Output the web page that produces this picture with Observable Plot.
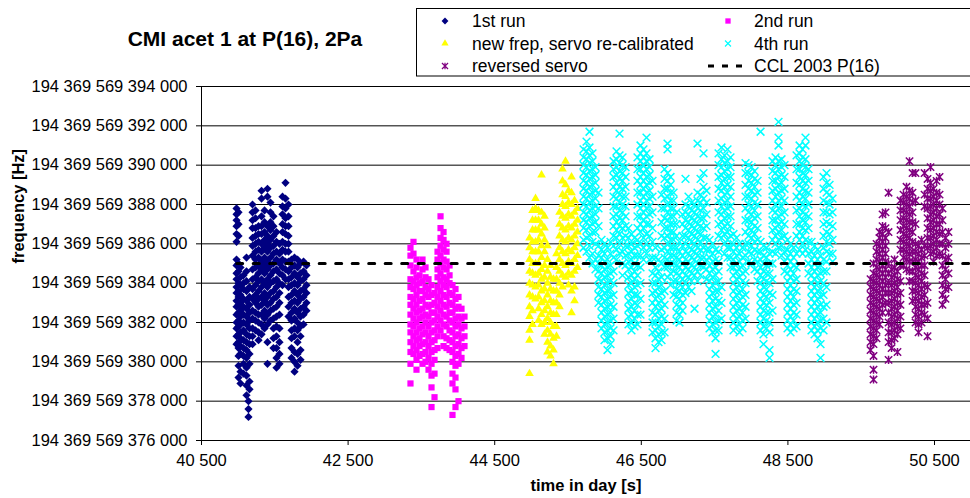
<!DOCTYPE html>
<html><head><meta charset="utf-8">
<script src="https://cdn.jsdelivr.net/npm/d3@7"></script>
<script src="https://cdn.jsdelivr.net/npm/@observablehq/plot@0.6"></script>
<style>
body{margin:0;background:#fff;font-family:"Liberation Sans",Arial,sans-serif;}
#wrap{position:relative;width:970px;height:498px;overflow:hidden;}
#title{position:absolute;left:0;top:28px;width:490px;text-align:center;font-weight:bold;font-size:21px;line-height:21px;color:#000;}
#legend{position:absolute;left:0;top:0;pointer-events:none;}
</style></head>
<body><div id="wrap"><div id="title">CMI acet 1 at P(16), 2Pa</div></div>
<script>
// series names
const seriesNames = ["1st run", "2nd run", "new frep, servo re-calibrated", "4th run", "reversed servo", "CCL 2003 P(16)"];
// axis ticks: time [s], frequency offset [kHz] above fBase
const xTicks = [40500, 42500, 44500, 46500, 48500, 50500];
const yTicks = [376, 378, 380, 382, 384, 386, 388, 390, 392, 394];
const fBase = 194369569000000; // Hz
// CCL 2003 reference value (kHz offset) and its time span
const cclValue = 385.0;
const cclTime = [40980, 50991];

// data: [time s, [frequency offsets in kHz]]
const run1 = [
[40978,[387.8,387.5,387.2,386.9,386.5,386.1,385.2,384.9,384.5,384.2,383.8,383.5,383.1,382.8,382.4,382.0,381.7,381.3,380.9]],
[41005,[387.6,387.0,386.4,385.0,384.6,384.0,383.6,383.3,382.9,382.5,382.1,381.8,381.4,381.0,380.7,380.3,379.8,379.2]],
[41032,[384.8,384.3,383.9,383.4,383.0,382.6,382.3,381.9,381.5,381.2,380.8,380.4,379.5,378.9]],
[41073,[384.4,384.0,383.7,383.2,382.8,382.4,382.0,381.6,381.1,380.7,380.3,379.9,379.4]],
[41114,[385.3,384.6,384.1,383.6,383.1,382.7,382.3,381.9,381.4,381.0,380.6,380.2,379.7,379.3,378.8,378.3]],
[41141,[378.0,377.6,377.2]],
[41155,[383.8,383.3,382.9,382.5,382.1,381.7,381.3,380.9,380.4,379.9,379.0,378.6]],
[41196,[388.0,387.6,387.2,386.8,386.3,385.9,385.4,384.7,384.2,383.7,383.2,382.6,382.2,381.7,381.3,380.9]],
[41237,[387.7,387.3,386.8,386.4,386.0,385.6,385.2,384.8,384.3,383.9,383.4,383.0,382.5,382.1,381.6]],
[41278,[386.9,386.5,386.1,385.7,385.3,384.9,384.5,384.1,383.6,383.2,382.8,382.4,382.0,381.5,381.1]],
[41319,[388.7,388.3,387.4,386.9,386.5,386.0,385.6,385.1,384.7,384.2,383.8,383.3,382.9,382.4,381.9,381.4]],
[41360,[387.7,387.1,386.6,386.2,385.8,385.3,384.9,384.5,384.0,383.5,383.1,382.6,382.2,381.7]],
[41400,[388.8,388.4,386.9,386.4,386.0,385.6,385.1,384.7,384.2,383.8,383.3,382.9,382.4,381.9,381.0,379.9]],
[41441,[388.1,387.6,387.1,386.7,386.2,385.8,385.3,384.9,384.4,384.0,383.5,383.0,382.6,382.1]],
[41482,[387.4,386.9,386.4,385.9,385.5,385.0,384.6,384.1,383.6,383.2,382.7,382.2,381.7,381.2,380.7]],
[41523,[386.6,386.1,385.6,385.2,384.7,384.2,383.8,383.3,382.8,382.3,381.8,381.3,380.7,380.2,379.7]],
[41564,[386.0,385.5,385.0,384.5,384.0,383.5,383.0,382.4,381.7,381.0,380.4,379.9]],
[41605,[388.4,387.9,387.5,387.0,386.6,386.1,385.7,385.2,384.8,384.4,383.9]],
[41646,[389.1,388.3,387.8,387.3,386.9,386.5,386.0,385.6,385.1,384.7,384.2]],
[41687,[388.0,387.4,386.9,386.4,386.0,385.6,385.1,384.6,384.2,383.8,383.3,382.8,382.3]],
[41728,[385.2,384.8,384.3,383.9,383.4,383.0,382.5,382.1,381.6,381.2,380.7,380.2]],
[41769,[385.3,384.9,384.5,384.0,383.6,383.1,382.7,382.2,381.7,381.3,380.5,380.0,379.5]],
[41810,[385.2,384.8,384.3,383.9,383.4,383.0,382.5,382.0,381.6,381.0,380.4,379.8]],
[41851,[385.0,384.5,384.1,383.6,383.2,382.7,382.3,381.8,381.3,380.6,380.1]],
[41892,[385.1,384.6,384.2,383.7,383.3,382.8,382.4,381.9]],
[41932,[384.9,384.4,383.9,383.5,383.0,382.6]]
];
const run2 = [
[43351,[385.8,385.4,384.9,384.2,383.8,383.3,382.9,382.4,381.9,381.5,381.0,380.5,379.9,378.9]],
[43392,[386.1,385.5,384.6,384.1,383.7,383.2,382.7,382.2,381.8,381.3,380.8,380.4]],
[43433,[385.2,384.8,384.3,383.9,383.4,382.9,382.5,382.0,381.5,381.1,380.6,380.1,379.6]],
[43474,[384.4,384.0,383.6,383.1,382.6,382.2,381.7,381.2,380.8,380.3]],
[43515,[385.2,384.7,384.1,383.6,383.2,382.7,382.3,381.8,381.4,380.9,380.4,379.9]],
[43556,[384.8,384.3,383.8,383.4,382.9,382.4,382.0,381.5,381.0,380.5,380.0]],
[43597,[384.2,383.7,383.3,382.8,382.3,381.8,381.3,380.8,380.2,379.6]],
[43638,[383.9,383.4,382.9,382.5,382.0,381.5,381.0,380.5,379.9,379.3,378.7,377.7]],
[43679,[383.5,383.0,382.5,382.1,381.6,381.1,380.6,380.1,379.4,378.2]],
[43720,[385.6,385.2,384.7,384.3,383.8,383.3,382.8,382.3,381.8,381.3,380.7]],
[43761,[387.4,386.8,386.3,385.9,385.4,385.0,384.5,384.1,383.6,383.1,382.6,382.1,381.6]],
[43802,[386.6,386.2,385.7,385.2,384.8,384.3,383.9,383.4,382.9,382.4,381.9,381.3,380.8]],
[43843,[386.0,385.6,385.1,384.7,384.2,383.8,383.3,382.8,382.3,381.8,381.2,380.7]],
[43884,[384.9,384.4,384.0,383.5,383.0,382.5,382.1,381.6,381.1,380.6]],
[43924,[383.9,383.4,382.9,382.5,382.0,381.5,381.0,380.5,380.0,379.4,378.9,377.3]],
[43965,[383.7,383.2,382.7,382.2,381.8,381.3,380.8,380.3,379.8,379.2,378.6,377.7]],
[44006,[383.3,382.8,382.3,381.9,381.4,380.9,380.4,379.9,378.0]],
[44047,[382.7,382.2,381.7,381.2,380.7,380.2]],
[44088,[382.3,381.8,381.3,380.8]]
];
const run3 = [
[44975,[386.3,385.8,385.2,384.6,384.0,383.4,382.8,382.3,381.6,381.1,379.4]],
[45016,[387.7,387.2,386.7,386.1,385.6,385.0,384.5,383.9,383.3,382.6,381.9]],
[45057,[388.3,387.8,387.2,386.7,386.1,385.6,385.0,384.4,383.8,383.2]],
[45098,[387.7,387.2,386.7,386.2,385.6,385.0,384.5,383.9,383.3,382.7,382.1]],
[45139,[389.5,387.6,387.0,386.5,385.9,385.3,384.7,384.2,383.6,383.0,382.4,381.9]],
[45180,[387.4,386.8,386.2,385.6,384.9,384.3,383.7,383.1,382.6,382.0,381.4]],
[45220,[385.9,385.2,384.6,384.0,383.4,382.8,382.2,381.6,381.0,380.5]],
[45261,[384.9,384.3,383.7,383.1,382.5,382.0,381.4,380.8,380.3]],
[45302,[384.2,383.6,383.0,382.4,381.8,381.2,380.6,379.9]],
[45343,[385.5,384.8,384.2,383.6,383.0,382.4,381.8,381.3]],
[45384,[387.6,387.0,386.4,385.8,385.2,384.6,384.0,383.4,382.8]],
[45425,[389.8,389.2,388.5,388.0,387.4,386.8,386.2,385.6,385.0,384.4,383.8]],
[45466,[390.2,389.0,388.4,387.9,387.3,386.7,386.1,385.5,384.9,384.3]],
[45507,[388.7,388.1,387.5,386.9,386.3,385.7,385.1,384.5,383.9]],
[45548,[389.4,388.6,388.0,387.4,386.8,386.2,385.6,385.0,384.4,383.6,382.5]],
[45589,[388.2,387.6,387.0,386.4,385.8,385.2,384.6,383.8,383.1]],
[45630,[387.8,387.2,386.6,386.0,385.4,384.8]]
];
const run4 = [
[45712,[390.8,390.4,390.0,389.6,389.2,388.8,388.4,388.0,387.6,387.2,386.8,386.2,385.8]],
[45753,[391.2,390.7,390.3,389.9,389.5,389.1,388.7,388.3,387.9,387.5,387.1,386.7,386.3,385.6]],
[45793,[391.7,390.9,390.5,390.1,389.7,389.3,388.9,388.5,388.1,387.7,387.3,386.9,386.4,385.9,385.3]],
[45834,[390.6,390.2,389.8,389.4,389.0,388.6,388.2,387.8,387.4,387.0,386.6,386.1,385.5,385.0]],
[45875,[389.9,389.5,389.1,388.7,388.3,387.9,387.5,387.1,386.6,386.0,385.2,384.7]],
[45916,[388.6,387.8,386.9,385.9,385.4,385.0,384.6,384.2,383.8,383.4,383.0]],
[45957,[386.2,385.7,385.3,384.9,384.5,384.1,383.7,383.3,382.9,382.5,382.1,381.7]],
[45998,[386.0,385.5,385.1,384.7,384.3,383.9,383.5,383.1,382.7,382.3,381.9,381.5,381.1]],
[46039,[385.8,385.2,384.8,384.4,384.0,383.6,383.2,382.8,382.4,382.0,381.6,381.2,380.6]],
[46080,[386.1,385.5,384.9,384.5,384.1,383.7,383.3,382.9,382.5,382.1,381.7,381.3,380.9]],
[46121,[390.2,389.8,389.4,388.9,388.4,387.9,387.4,386.9,386.4,385.9,385.3,384.6,384.0,383.4,382.8,382.2,381.6]],
[46162,[390.7,390.3,389.9,389.5,389.1,388.7,388.3,387.9,387.5,387.1,386.7,386.3,385.7,385.2]],
[46203,[391.6,390.5,390.1,389.7,389.3,388.9,388.5,388.1,387.7,387.3,386.9,386.5,386.0,385.5]],
[46244,[390.4,390.0,389.6,389.2,388.8,388.4,388.0,387.6,387.2,386.8,386.3,385.6,385.0,384.4]],
[46285,[389.9,389.4,388.9,388.4,387.9,387.4,386.9,386.4,385.9,385.4,384.9]],
[46325,[386.8,386.3,385.9,385.5,385.1,384.7,384.3,383.9,383.5,383.1,382.7,382.3,381.9]],
[46366,[386.5,386.0,385.6,385.2,384.8,384.4,384.0,383.6,383.2,382.8,382.4,382.0,381.6]],
[46407,[386.3,385.8,385.4,385.0,384.6,384.2,383.8,383.4,383.0,382.6,382.2,381.8]],
[46448,[390.4,389.8,389.2,388.6,388.0,387.4,386.8,386.2,385.9,385.4,384.9,384.4,383.9,383.4,382.9,382.4,381.9]],
[46489,[391.0,390.6,390.2,389.8,389.4,389.0,388.6,388.2,387.8,387.4,387.0,386.6,386.0,385.4,384.8,384.0,383.2,382.4]],
[46530,[390.8,390.4,390.0,389.6,389.2,388.8,388.4,388.0,387.6,387.2,386.8,386.3,385.8,385.2]],
[46571,[391.4,390.6,390.2,389.8,389.4,389.0,388.6,388.2,387.8,387.4,387.0,386.5,386.0,385.5]],
[46612,[390.3,389.9,389.5,389.1,388.7,388.3,387.9,387.5,387.0,386.4,385.8,385.2]],
[46653,[389.2,388.4,387.6,386.8,386.1,385.3,384.5,384.0,383.5,383.0,382.5,382.0,381.5]],
[46694,[385.8,385.3,384.8,384.4,384.0,383.6,383.2,382.8,382.4,382.0,381.6,381.2,380.7]],
[46735,[385.2,384.6,384.2,383.8,383.4,383.0,382.6,382.2,381.8,381.4,381.0]],
[46776,[388.5,387.8,387.1,386.4,385.7,385.0,384.3,383.9,383.5,383.1,382.7,382.3,381.9,381.5,381.1]],
[46817,[389.8,389.3,388.8,388.3,387.8,387.3,386.8,386.3,385.8,385.3,384.8,383.6,382.9,382.2,381.5]],
[46858,[391.1,390.8,389.6,389.2,388.8,388.4,388.0,387.6,387.2,386.8,386.4,386.0,385.6,385.2,384.8,384.3]],
[46899,[389.4,389.0,388.6,388.2,387.8,387.4,387.0,386.6,386.2,385.8,385.4,385.0,384.5,383.9]],
[46940,[388.6,388.2,387.8,387.4,387.0,386.6,386.2,385.8,385.4,385.0,384.6,384.1,383.4]],
[46981,[387.6,387.0,386.4,385.8,385.3,384.9,384.5,384.1,383.7,383.3,382.9,382.5,382.1]],
[47021,[386.1,385.6,385.2,384.8,384.4,384.0,383.6,383.2,382.8,382.4,382.0]],
[47062,[387.5,387.0,386.4,385.9,385.4,385.0,384.6,384.2,383.8,383.4,383.0,382.6]],
[47103,[389.3,388.0,387.6,387.2,386.8,386.4,386.0,385.6,385.2,384.8,384.4,384.0,383.5]],
[47144,[388.4,387.9,387.5,387.1,386.7,386.3,385.9,385.5,385.1,384.7,384.3,383.8]],
[47185,[388.1,387.7,387.3,386.9,386.5,386.1,385.7,385.3,384.9,384.5,384.1,383.6]],
[47226,[388.0,387.6,387.2,386.8,386.4,386.0,385.6,385.2,384.8,384.4,382.7]],
[47267,[391.1,388.6,388.2,387.8,387.4,387.0,386.6,386.2,385.8,385.4,385.0,384.6,384.1]],
[47308,[389.3,388.5,388.1,387.7,387.3,386.9,386.5,386.1,385.7,385.3,384.9,384.4]],
[47349,[390.6,389.6,388.9,388.3,387.8,387.3,386.8,386.3,385.8,385.3,384.8]],
[47390,[388.7,388.1,387.5,386.9,386.3,385.7,385.2,384.7,384.2]],
[47431,[386.2,385.7,385.3,384.9,384.5,384.1,383.7,383.3,382.9,382.5,382.1,381.7]],
[47472,[386.0,385.5,385.1,384.7,384.3,383.9,383.5,383.1,382.7,382.3,381.9,381.5]],
[47513,[385.7,385.2,384.8,384.4,384.0,383.6,383.2,382.8,382.4,382.0,381.6,381.2,380.4]],
[47554,[390.6,390.0,389.4,388.8,388.2,387.6,387.0,386.4,385.6,385.1,384.6,384.1,383.6,383.1,382.6,382.1,381.6]],
[47594,[390.9,390.3,389.9,389.5,389.1,388.7,388.3,387.9,387.5,387.1,386.7,386.3,383.8,383.0,382.2]],
[47635,[390.5,390.1,389.7,389.3,388.9,388.5,388.1,387.7,387.3,386.9,386.5,386.0,385.5]],
[47676,[390.8,390.2,389.8,389.4,389.0,388.6,388.2,387.8,387.4,387.0,386.6,386.2,385.8,385.3]],
[47717,[390.4,389.9,389.4,388.9,388.4,387.9,387.4,386.9,386.4,385.8,385.3,384.8]],
[47758,[386.5,386.0,385.6,385.2,384.8,384.4,384.0,383.6,383.2,382.8,382.4,382.0,381.6]],
[47799,[386.3,385.8,385.4,385.0,384.6,384.2,383.8,383.4,383.0,382.6,382.2,381.8]],
[47840,[386.0,385.5,385.1,384.7,384.3,383.9,383.5,383.1,382.7,382.3,381.9,381.5]],
[47881,[385.8,385.3,384.9,384.5,384.1,383.7,383.3,382.9,382.5,382.1,381.7]],
[47922,[390.1,389.6,389.0,388.4,387.8,387.2,386.6,386.0,385.4,384.6,384.0,383.4,382.8,382.2]],
[47963,[390.0,389.6,389.2,388.8,388.4,388.0,387.6,387.2,386.8,386.4,386.0,385.6,385.1]],
[48004,[389.9,389.5,389.1,388.7,388.3,387.9,387.5,387.1,386.7,386.3,385.9,385.5,385.0]],
[48045,[389.7,389.3,388.9,388.5,388.1,387.7,387.3,386.9,386.5,386.1,385.7,385.2,384.7]],
[48086,[389.2,388.6,388.0,387.4,386.8,386.2,385.6,385.1,384.6,384.1]],
[48127,[391.7,386.1,385.6,385.2,384.8,384.4,384.0,383.6,383.2,382.8,382.4,382.0,381.6]],
[48167,[385.9,385.4,385.0,384.6,384.2,383.8,383.4,383.0,382.6,382.2,381.8,381.4,380.9]],
[48208,[385.8,385.3,384.9,384.5,384.1,383.7,383.3,382.9,382.5,382.1,381.7]],
[48249,[385.5,385.0,384.5,384.0,383.5,383.0,382.5,382.0,381.5,380.6,380.2]],
[48290,[390.2,389.7,389.2,388.7,388.2,387.7,387.2,386.7,386.2,385.6,385.0,384.2,383.4,382.6]],
[48331,[390.4,390.0,389.6,389.2,388.8,388.4,388.0,387.6,387.2,386.8,386.4,386.0,385.5]],
[48372,[392.2,391.4,391.0,390.2,389.8,389.4,389.0,388.6,388.2,387.8,387.4,387.0,386.6,386.2,385.8]],
[48413,[390.3,389.9,389.5,389.1,388.7,388.3,387.9,387.5,387.1,386.7,386.3,385.9,385.4]],
[48454,[390.0,389.4,388.8,388.2,387.6,387.0,386.4,385.6,385.1,384.6]],
[48495,[386.2,385.7,385.3,384.9,384.5,384.1,383.7,383.3,382.9,382.5,382.1,381.7]],
[48536,[386.0,385.5,385.1,384.7,384.3,383.9,383.5,383.1,382.7,382.3,381.9,381.5]],
[48577,[385.8,385.3,384.9,384.5,384.1,383.7,383.3,382.9,382.5,382.1,381.7]],
[48618,[390.5,389.8,389.1,388.4,387.7,387.0,386.4,385.5,384.8,384.2,383.6,383.0,382.4,381.8]],
[48659,[391.0,390.6,390.2,389.8,389.4,389.0,388.6,388.2,387.8,387.4,387.0,386.6,386.2,385.7]],
[48700,[390.8,390.4,390.0,389.6,389.2,388.8,388.4,388.0,387.6,387.2,386.8,386.4,386.0,385.5]],
[48740,[391.4,391.0,390.3,389.9,389.5,389.1,388.7,388.3,387.9,387.5,387.1,386.7,386.2,385.7]],
[48781,[389.8,389.2,388.6,388.0,387.4,386.8,386.1,385.5,385.0,384.5]],
[48822,[386.1,385.6,385.2,384.8,384.4,384.0,383.6,383.2,382.8,382.4,382.0,381.6]],
[48863,[385.9,385.4,385.0,384.6,384.2,383.8,383.4,383.0,382.6,382.2,381.8,381.4]],
[48904,[385.7,385.2,384.8,384.4,384.0,383.6,383.2,382.8,382.4,382.0,381.6,381.2]],
[48945,[385.4,384.9,384.5,384.1,383.7,383.3,382.9,382.5,382.1,381.7,380.9,380.2]],
[48986,[389.4,388.8,388.2,387.6,387.0,386.4,385.8,385.2,384.6,384.0,383.4,382.8,382.2,381.6]],
[49027,[389.6,389.1,388.6,388.1,387.6,387.1,386.6,386.1,385.6,385.1,384.6,383.8,382.9,382.0]],
[49068,[389.0,388.5,388.0,387.5,387.0,386.5,386.0,385.5]],
[49109,[388.3,387.6,386.9,386.2,385.5,385.1]]
];
const run5 = [
[49627,[384.2,383.8,383.4,383.0,382.6,382.2,381.8,381.4,381.0,380.6]],
[49668,[385.0,384.5,384.1,383.7,383.3,382.9,382.5,382.1,381.7,381.3,380.9,380.3,379.6,379.1]],
[49709,[386.0,385.6,385.2,384.8,384.4,384.0,383.6,383.2,382.8,382.4,382.0,381.6,381.2]],
[49750,[386.6,386.3,385.9,385.5,385.1,384.7,384.3,383.9,383.5,383.1,382.7,382.3,381.9]],
[49791,[387.5,386.9,386.5,386.1,385.7,385.3,384.9,384.5,384.1,383.7,383.3,382.9,382.5]],
[49832,[387.6,386.8,386.3,385.9,385.5,385.1,384.7,384.3,383.9,383.5,383.0]],
[49873,[388.6,386.6,385.0,384.5,384.0,383.5,383.0,382.5,382.0,381.5,381.0,380.1]],
[49914,[384.7,384.3,383.9,383.5,383.1,382.7,382.3,381.9,381.5,381.1,380.7]],
[49955,[385.2,384.8,384.4,384.0,383.6,383.2,382.8,382.4,382.0,381.6,381.2]],
[49995,[384.6,384.2,383.8,383.4,383.0,382.6,382.2,381.8,381.4,380.5]],
[50036,[388.2,387.7,387.2,386.7,386.2,385.7,384.9,384.1,383.5,382.9,382.3,381.7]],
[50077,[388.5,388.1,387.7,387.3,386.9,386.5,386.1,385.7,385.3,384.9]],
[50118,[388.9,388.4,388.0,387.6,387.2,386.8,386.4,386.0,385.6,385.2,384.7]],
[50159,[390.2,388.7,388.3,387.9,387.5,387.1,386.7,386.3,385.9,385.5,385.1,384.6,384.1]],
[50200,[389.6,388.6,388.1,387.6,387.1,386.6,386.1,385.6,385.1,384.6,384.1,383.6,383.1]],
[50241,[389.6,388.2,387.0,386.0,385.6,385.2,384.8,384.4,384.0,383.6,383.2,382.8,382.4,382.0]],
[50282,[385.9,385.5,385.1,384.7,384.3,383.9,383.5,383.1,382.7,382.3,381.9,381.5]],
[50323,[386.2,385.7,385.3,384.9,384.5,384.1,383.7,383.3,382.9,382.5,382.0]],
[50364,[389.6,388.5,387.9,385.9,385.4,384.9,384.4,383.9,383.4,382.9,382.4]],
[50405,[389.3,388.8,388.3,387.8,387.3,386.8,386.3,385.8,383.8,383.0,382.2,381.3]],
[50446,[389.9,389.1,388.7,388.3,387.9,387.5,387.1,386.7,386.3,385.9,385.5]],
[50487,[388.8,388.4,388.0,387.6,387.2,386.8,386.4,386.0,385.6,385.1]],
[50528,[389.2,388.6,388.2,387.8,387.4,387.0,386.6,386.2,385.8,385.4]],
[50569,[389.4,388.5,388.0,387.5,387.0,386.5,386.0,385.5]],
[50609,[387.8,387.2,386.6,386.0,385.4,384.9,384.4,383.9,383.4,382.9]],
[50650,[386.3,385.8,385.2,384.7,384.2,383.7,383.2]],
[50691,[386.6,386.0,385.3,384.5,383.8]]
];

const colors = ["#000080", "#FF00FF", "#FFFF00", "#00FFFF", "#800080", "#000000"];
const flat = cols => cols.flatMap(([t, fs]) => fs.map(f => ({t, f})));
const cclData = cclTime.map(t => ({t, f: cclValue}));
const fmtHz = v => d3.format(",.0f")(fBase + v * 1000).replace(/,/g, " ");
const fmtT = v => d3.format(",")(v).replace(/,/g, " ");

// Excel-like "star" marker: an x with a vertical bar
const starSymbol = {draw(ctx, size) {
  const r = Math.sqrt(size / Math.PI) * 1.05;
  ctx.moveTo(-r, -r); ctx.lineTo(r, r);
  ctx.moveTo(-r, r); ctx.lineTo(r, -r);
  ctx.moveTo(0, -r * 1.1); ctx.lineTo(0, r * 1.1);
}};
const sym = [
  {symbol: "diamond2", r: 3.7, fill: colors[0], stroke: "none"},
  {symbol: "square", r: 3.5, fill: colors[1], stroke: "none"},
  {symbol: "triangle", r: 3.2, fill: colors[2], stroke: "none"},
  {symbol: "times", r: 3.6, fill: "none", stroke: colors[3], strokeWidth: 1.5},
  {symbol: starSymbol, r: 3.5, fill: "none", stroke: colors[4], strokeWidth: 1.5}
];
const runs = [run1, run2, run3, run4, run5];

const chart = Plot.plot({
  width: 970, height: 498,
  marginTop: 86, marginBottom: 58, marginLeft: 201, marginRight: 0,
  style: {fontFamily: '"Liberation Sans", Arial, sans-serif', fontSize: "16.5px", color: "#000", background: "#fff", overflow: "visible"},
  x: {domain: [40500, 50991], ticks: xTicks, tickFormat: fmtT, tickSize: 5, tickPadding: 9, label: null},
  y: {domain: [376, 394], ticks: yTicks, tickFormat: fmtHz, tickSize: 5, tickPadding: 9, label: null},
  marks: [
    Plot.ruleY(yTicks, {stroke: "#000", strokeWidth: 1}),
    Plot.ruleX([40500], {stroke: "#000", strokeWidth: 1}),
    ...runs.map((run, i) => Plot.dot(flat(run), {x: "t", y: "f", ...sym[i]})),
    Plot.line(cclData, {x: "t", y: "f", stroke: colors[5], strokeWidth: 3, strokeDasharray: "6,10.5"}),
    Plot.text(["frequency [Hz]"], {text: d => d, frameAnchor: "left", dx: -183, rotate: -90, fontWeight: "bold", fontSize: 16.5}),
    Plot.text(["time in day [s]"], {text: d => d, frameAnchor: "bottom", dy: 50, fontWeight: "bold", fontSize: 16.5})
  ]
});
const wrap = document.getElementById("wrap");
wrap.insertBefore(chart, wrap.firstChild);

// legend overlay
const lg = d3.select(wrap).append("svg").attr("id", "legend").attr("width", 970).attr("height", 498)
  .style("font-family", '"Liberation Sans", Arial, sans-serif').style("font-size", "17.5px");
lg.append("rect").attr("x", 416.5).attr("y", 8.5).attr("width", 600).attr("height", 67.5)
  .attr("fill", "#fff").attr("stroke", "#000").attr("stroke-width", 1);
const rowsY = [21, 43.5, 66];
const slots = [
  {i: 0, cx: 445, tx: 472, cy: rowsY[0]},
  {i: 1, cx: 728, tx: 754, cy: rowsY[0]},
  {i: 2, cx: 445, tx: 472, cy: rowsY[1]},
  {i: 3, cx: 728, tx: 754, cy: rowsY[1]},
  {i: 4, cx: 445, tx: 472, cy: rowsY[2]},
  {i: 5, cx: 725, tx: 754, cy: rowsY[2]}
];
const d3sym = {diamond2: d3.symbolDiamond2, square: d3.symbolSquare, triangle: d3.symbolTriangle, times: d3.symbolTimes};
const legR = [3.1, 3.0, 2.7, 2.8, 2.9];
for (const s of slots) {
  if (s.i < 5) {
    const o = sym[s.i];
    const type = typeof o.symbol === "string" ? d3sym[o.symbol] : o.symbol;
    lg.append("path").attr("transform", `translate(${s.cx},${s.cy})`)
      .attr("d", d3.symbol(type, Math.PI * legR[s.i] * legR[s.i])())
      .attr("fill", o.fill).attr("stroke", o.stroke).attr("stroke-width", o.strokeWidth ? 1.2 : 0);
  } else {
    lg.append("line").attr("x1", 708).attr("x2", 742).attr("y1", s.cy).attr("y2", s.cy)
      .attr("stroke", "#000").attr("stroke-width", 3).attr("stroke-dasharray", "6,8");
  }
  lg.append("text").attr("x", s.tx).attr("y", s.cy).attr("dy", "0.35em").text(seriesNames[s.i]);
}
</script></body></html>
